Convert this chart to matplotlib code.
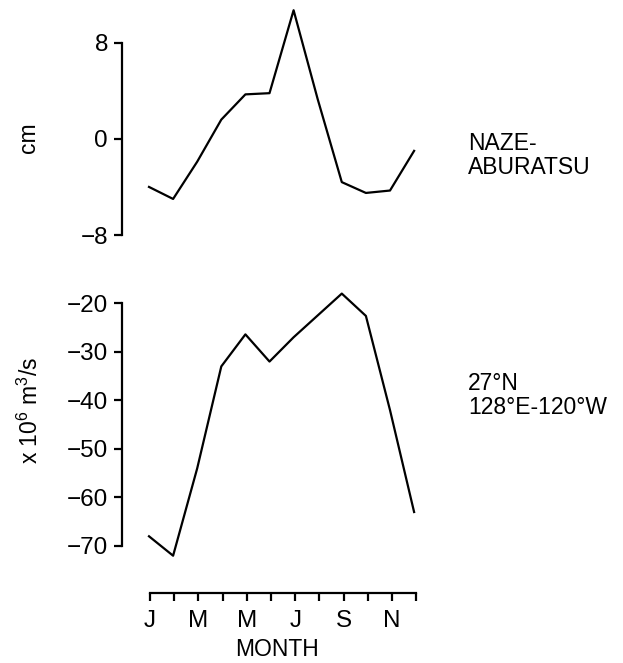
import matplotlib
matplotlib.use("Agg")
import matplotlib.pyplot as plt

plt.rcParams['font.family'] = ['Liberation Sans', 'DejaVu Sans']
plt.rcParams['mathtext.default'] = 'regular'

# month index 0 = Jan ... 11 = Dec
months = list(range(12))
month_ticks = [0, 2, 4, 6, 8, 10]
month_labels = ['J', 'M', 'M', 'J', 'S', 'N']

# sea level difference Naze - Aburatsu (cm)
sea_level = [-4.0, -5.0, -1.9, 1.6, 3.7, 3.8, 10.7, 3.3, -3.6, -4.5, -4.3, -1.0]
# transport across 27N (x 10^6 m^3/s)
transport = [-68, -72, -54, -33, -26.4, -32, -27, -22.5, -18, -22.6, -42, -63]

W, H = 623, 663
fig = plt.figure(figsize=(W / 100, H / 100), dpi=100)


def px_axes(left, top, right, bottom):
    return fig.add_axes([left / W, 1 - bottom / H, (right - left) / W, (bottom - top) / H])


# x mapping: pixel = 149 + 24.1 * month
xlim = ((122 - 149) / 24.1, (440 - 149) / 24.1)
lw = 1.6
fs_tick = 17.5
fs = 16.5


def style_axis(ax, lo, hi, ticks):
    for s in ['top', 'right', 'bottom']:
        ax.spines[s].set_visible(False)
    ax.spines['left'].set_bounds(lo, hi)
    ax.spines['left'].set_linewidth(lw)
    ax.set_xlim(*xlim)
    ax.set_xticks([])
    ax.set_yticks(ticks)
    ax.tick_params(axis='y', direction='out', length=6, width=lw, labelsize=fs_tick, pad=4)
    ax.patch.set_alpha(0)


# top panel
ax1 = px_axes(122, 0, 440, 250)
ax1.plot(months, sea_level, color='black', lw=lw)
ax1.set_ylim((138.85 - 250) / 12.02, 138.85 / 12.02)
style_axis(ax1, -8, 8, [-8, 0, 8])
ax1.set_yticklabels(['-8', '0', '8'])

# bottom panel
ax2 = px_axes(122, 285, 440, 565)
ax2.plot(months, transport, color='black', lw=lw)
ax2.set_ylim(-70 - (565 - 546) / 4.854, -20 + (303.3 - 285) / 4.854)
style_axis(ax2, -70, -20, [-70, -60, -50, -40, -30, -20])
ax2.set_yticklabels(['\u221270', '\u221260', '\u221250', '\u221240', '\u221230', '\u221220'])
ax1.set_yticklabels(['\u22128', '0', '8'])

# month axis
ax3 = px_axes(122, 560, 440, 593)
for s in ['top', 'right', 'left']:
    ax3.spines[s].set_visible(False)
ax3.set_xlim((122 - 150) / 24.2, (440 - 150) / 24.2)
ax3.spines['bottom'].set_bounds(0, 11)
ax3.spines['bottom'].set_linewidth(lw)
ax3.set_yticks([])
ax3.set_xticks(month_ticks)
ax3.set_xticklabels(month_labels)
ax3.set_xticks(months, minor=True)
ax3.tick_params(axis='x', which='both', direction='out', length=6, width=lw, labelsize=fs_tick, pad=6)
ax3.patch.set_alpha(0)

fig.text(277 / W, 1 - 650 / H, 'MONTH', fontsize=fs, ha='center', va='center')

# y labels
fig.text(28 / W, 1 - 138 / H, 'cm', fontsize=fs, rotation=90, ha='center', va='center')
fig.text(30 / W, 1 - 410 / H, 'x 10$^6$ m$^3$/s', fontsize=fs, rotation=90, ha='center', va='center')

# right-side station labels
fig.text(468 / W, 1 - 155.5 / H, 'NAZE-\nABURATSU', fontsize=fs, ha='left', va='center', linespacing=1.1)
fig.text(468 / W, 1 - 395.5 / H, '27°N\n128°E-120°W', fontsize=fs, ha='left', va='center', linespacing=1.1)

fig.savefig('out.png', dpi=100)
